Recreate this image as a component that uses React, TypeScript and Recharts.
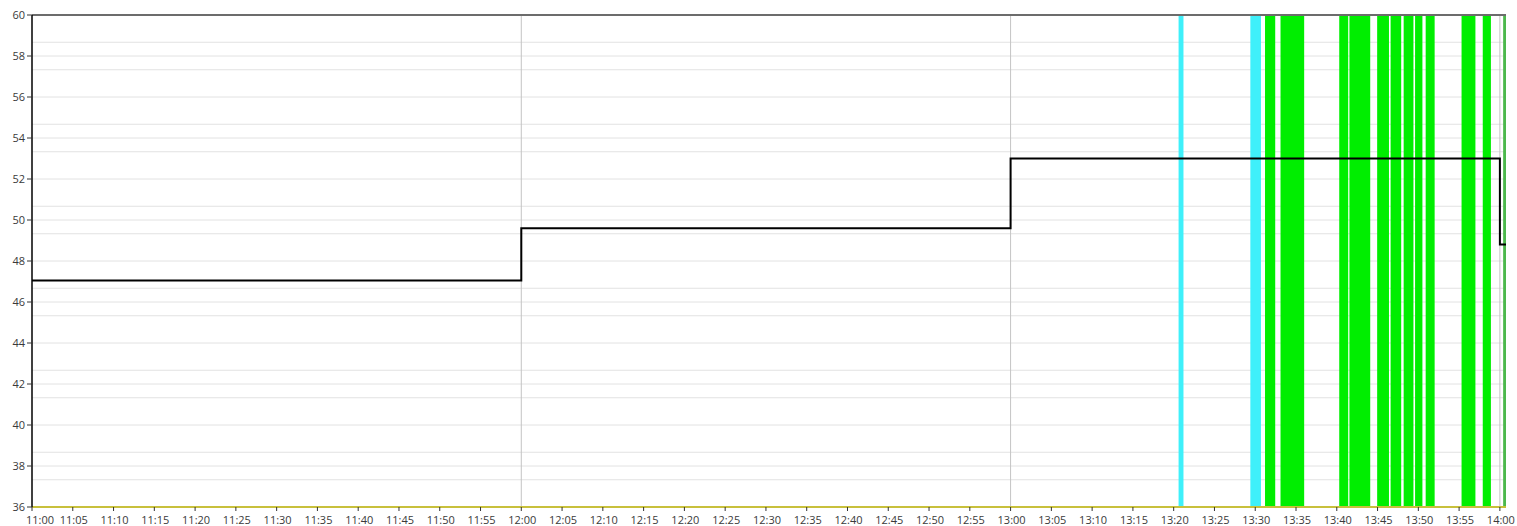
import { CartesianGrid, ComposedChart, Line, ReferenceArea, ReferenceLine, XAxis, YAxis } from "recharts";

// minutes after 11:00
const stepTimes = [0, 60, 120, 180, 180.75];
const stepValues = [47.05, 49.6, 53.0, 48.8, 48.8];

const cyanBands: [number, number][] = [
  [140.6, 141.2],
  [149.4, 150.7],
];

const greenBands: [number, number][] = [
  [151.2, 152.45],
  [153.1, 156.0],
  [160.3, 161.4],
  [161.55, 164.1],
  [164.95, 166.4],
  [166.6, 167.9],
  [168.2, 169.4],
  [169.6, 170.5],
  [170.9, 172.0],
  [175.3, 177.0],
  [177.9, 178.9],
];

const edgeBand: [number, number] = [180.4, 180.75];

const xTickLabels = [
  "11:00", "11:05", "11:10", "11:15", "11:20", "11:25", "11:30", "11:35", "11:40", "11:45", "11:50", "11:55",
  "12:00", "12:05", "12:10", "12:15", "12:20", "12:25", "12:30", "12:35", "12:40", "12:45", "12:50", "12:55",
  "13:00", "13:05", "13:10", "13:15", "13:20", "13:25", "13:30", "13:35", "13:40", "13:45", "13:50", "13:55",
  "14:00",
];
const yTicks = [36, 38, 40, 42, 44, 46, 48, 50, 52, 54, 56, 58, 60];
const minorGrid = [37.33, 38.67, 41.33, 42.67, 45.33, 46.67, 49.33, 50.67, 53.33, 54.67, 57.33, 58.67];
const hourLines = [60, 120, 180];

const toMinutes = (label: string) => {
  const [h, m] = label.split(":").map(Number);
  return (h - 11) * 60 + m;
};
const xTicks = xTickLabels.map(toMinutes);
const fmt = (t: number) => {
  const h = 11 + Math.floor(t / 60);
  const m = Math.round(t % 60);
  return `${h}:${m.toString().padStart(2, "0")}`;
};

const data = stepTimes.map((t, i) => ({ t, v: stepValues[i] }));
const font = "'Open Sans', sans-serif";
const tickStyle = { fill: "#3a3a3a", fontSize: 11, fontFamily: font };

function TimeTick({ x, y, payload, index }: any) {
  const first = index === 0;
  return (
    <text
      x={first ? x - 6 : x + 1}
      y={y + 11}
      textAnchor={first ? "start" : "middle"}
      fill="#3a3a3a"
      fontSize={11}
      fontFamily={font}
    >
      {fmt(payload.value)}
    </text>
  );
}

export default function App() {
  return (
    <div style={{ position: "absolute", left: 0, top: 0, width: 1517, height: 526, background: "#fff" }}>
      <ComposedChart width={1517} height={526} data={data} margin={{ top: 15, right: 11, bottom: 0, left: 0 }}>
        <CartesianGrid horizontal vertical={false} horizontalValues={[...yTicks, ...minorGrid]} stroke="#e2e2e2" />
        <CartesianGrid horizontal={false} vertical verticalValues={hourLines} stroke="#c4c4c4" />
        <XAxis
          dataKey="t"
          type="number"
          domain={[0, 180.75]}
          ticks={xTicks}
          interval={0}
          height={19}
          axisLine={false}
          tickLine={{ stroke: "#333" }}
          tickSize={4}
          tick={<TimeTick />}
        />
        <YAxis
          type="number"
          domain={[36, 60]}
          ticks={yTicks}
          interval={0}
          width={32}
          axisLine={{ stroke: "#000", strokeWidth: 1.5 }}
          tickLine={{ stroke: "#333" }}
          tickSize={5}
          tick={tickStyle}
        />
        {cyanBands.map(([a, b]) => (
          <ReferenceArea key={`c${a}`} x1={a} x2={b} fill="#3ff0fa" fillOpacity={1} stroke="none" />
        ))}
        {greenBands.map(([a, b]) => (
          <ReferenceArea key={`g${a}`} x1={a} x2={b} fill="#00ee00" fillOpacity={1} stroke="none" />
        ))}
        <ReferenceArea x1={edgeBand[0]} x2={edgeBand[1]} fill="#4cb84c" fillOpacity={1} stroke="none" />
        <ReferenceLine y={60} stroke="#6c6c6c" strokeWidth={2} />
        <ReferenceLine y={36} stroke="#c8c03c" strokeWidth={2} />
        <Line dataKey="v" type="stepAfter" stroke="#000" strokeWidth={2} dot={false} isAnimationActive={false} />
      </ComposedChart>
    </div>
  );
}
